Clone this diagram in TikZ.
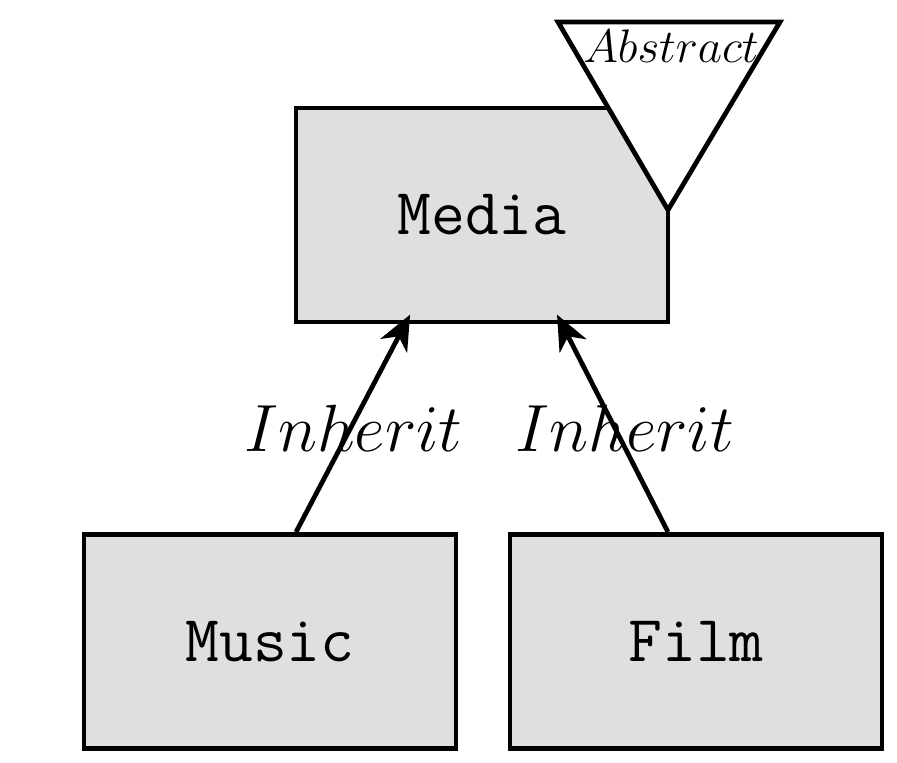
\documentclass[tikz,border=0pt]{standalone}
\usepackage{fix-cm}
\usetikzlibrary{arrows.meta}

\begin{document}
\begin{tikzpicture}[-{Stealth[length=10pt,width=8.5pt,inset=3pt]},line width=1.35pt,class node/.style={rectangle,draw,fill=gray!25,minimum width=3.72cm,minimum height=2.14cm,inner sep=0pt,font=\fontsize{18.7}{22}\selectfont\ttfamily},tag node/.style={inner sep=0pt,font=\fontsize{13.4}{16}\selectfont}]
  \useasboundingbox (0,0) rectangle (8.97,7.63);
  \node[class node] (1) at (4.82,5.48) {Media};
  \node[class node] (2) at (2.70,1.215) {Music};
  \node[class node] (3) at (6.96,1.215) {Film};
  \draw[-,fill=white] (5.58,7.41) -- (7.80,7.41) -- (6.68,5.53) -- cycle;
  \node[tag node] (4) at (6.71,7.17) {$Abstract$};

\path[shorten >=-0.11cm,every node/.style={font=\fontsize{19}{23}\selectfont}]
  ([xshift=0.26cm]2.north) edge node[xshift=0.03cm] {$Inherit$} ([xshift=-0.77cm]1.south)
  ([xshift=-0.28cm]3.north) edge node[xshift=0.1cm] {$Inherit$} ([xshift=0.80cm]1.south)
;
\end{tikzpicture}
\end{document}
